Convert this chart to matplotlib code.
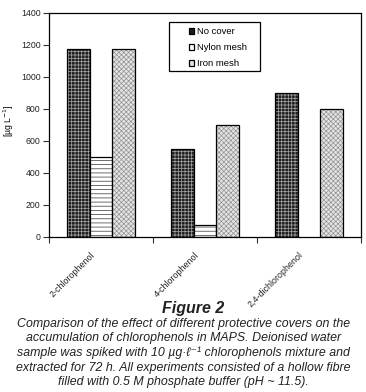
import matplotlib
matplotlib.use("Agg")
import matplotlib.pyplot as plt
from matplotlib.patches import Patch, Rectangle
import numpy as np

plt.rcParams['font.family'] = ['Liberation Sans', 'DejaVu Sans']

categories = ["2-chlorophenol", "4-chlorophenol", "2,4-dichlorophenol"]
series_names = ["No cover", "Nylon mesh", "Iron mesh"]
no_cover = [1175, 550, 900]
nylon_mesh = [500, 75, 0]
iron_mesh = [1175, 700, 800]
yticks = [0, 200, 400, 600, 800, 1000, 1200, 1400]

W, H = 366, 392
fig = plt.figure(figsize=(W / 100, H / 100), dpi=100)
ax = fig.add_axes([49 / W, 1 - 237 / H, 312 / W, 224 / H])

x = np.arange(len(categories))
w = 0.221
styles = [
    dict(face='#1c1c1c', hatch='+++++', hcol='#a0a0a0', hlw=0.55),
    dict(face='white', hatch='----', hcol='#555555', hlw=0.6),
    dict(face='#e4e4e4', hatch='xxxxxxx', hcol='#8c8c8c', hlw=0.45),
]
data = [no_cover, nylon_mesh, iron_mesh]
handles = []
for i, (vals, st, name) in enumerate(zip(data, styles, series_names)):
    pos = x + (i - 1) * w
    vals = np.array(vals, dtype=float)
    mask = vals > 0
    plt.rcParams['hatch.linewidth'] = st['hlw']
    ax.bar(pos[mask], vals[mask], w, color=st['face'], edgecolor=st['hcol'],
           hatch=st['hatch'], linewidth=0)
    ax.bar(pos[mask], vals[mask], w, fill=False, edgecolor='black', linewidth=0.9)
    handles.append(Patch(facecolor=st['face'], edgecolor='black', hatch=None,
                         linewidth=0.9, label=name))

ax.set_xlim(-0.5, len(categories) - 0.5)
ax.set_ylim(0, 1400)
ax.set_yticks(yticks)
ax.set_yticklabels([str(t) for t in yticks], fontsize=6.3, color='#222222')
ax.set_xticks(np.arange(len(categories) + 1) - 0.5)
ax.set_xticklabels([])
ax.tick_params(axis='both', direction='out', length=4, width=0.8, pad=2,
               color='#333333')
for s in ax.spines.values():
    s.set_linewidth(0.9)

for xi, lab in zip(x, categories):
    ax.text(xi - 0.1, -0.06, lab, rotation=45, ha='right', va='top',
            fontsize=6.4, color='#222222', rotation_mode='anchor',
            transform=ax.get_xaxis_transform())

ax.set_ylabel("[µg L$^{-1}$]", fontsize=6.2)
ax.yaxis.set_label_coords(-0.105, 0.52)

# legend frame and entries
ax.add_patch(Rectangle(((169 - 49) / 312, (237 - 71) / 224), 91 / 312, 49 / 224,
                       transform=ax.transAxes, fill=False, edgecolor='black',
                       linewidth=0.9, zorder=5))
leg = ax.legend(handles=handles, loc='upper left',
                bbox_to_anchor=((189 - 49) / 312, (237 - 27.5) / 224),
                fontsize=6.8, frameon=False, handlelength=0.55,
                handleheight=0.55, handletextpad=0.3, labelspacing=0.72,
                borderpad=0, borderaxespad=0)

fig.text(193 / W, 1 - 308 / H, "Figure 2", ha='center', va='center', fontsize=11.5,
         fontweight='bold', style='italic', color='#222222')
caption = ("Comparison of the effect of different protective covers on the\n"
           "accumulation of chlorophenols in MAPS. Deionised water\n"
           "sample was spiked with 10 µg·ℓ⁻¹ chlorophenols mixture and\n"
           "extracted for 72 h. All experiments consisted of a hollow fibre\n"
           "filled with 0.5 M phosphate buffer (pH ~ 11.5).")
fig.text(183.5 / W, 1 - 318 / H, caption, ha='center', va='top', fontsize=8.9,
         style='italic', color='#222222', linespacing=1.27,
         family=['Liberation Sans', 'DejaVu Sans'])

fig.savefig("out.png", dpi=100)
